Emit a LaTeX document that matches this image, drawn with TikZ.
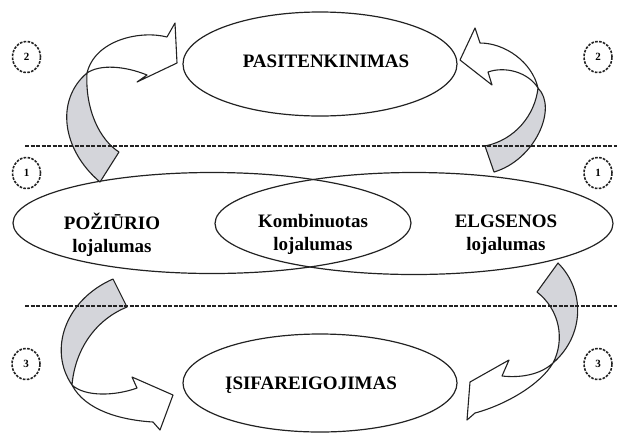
\documentclass[tikz,border=0pt]{standalone}
\usepackage{fontspec}
\setmainfont{Liberation Serif}
\usetikzlibrary{shapes.geometric}
\definecolor{bandgray}{HTML}{D4D5DA}
\definecolor{ink}{HTML}{222222}
\begin{document}
\begin{tikzpicture}[x=1pt,y=-1pt,
  oval/.style={draw=ink, line width=1.2pt, ellipse, inner sep=0pt},
  lbl/.style={font=\bfseries\fontsize{19}{23}\selectfont, align=center, inner sep=0pt, text=black},
  band/.style={draw=ink, line width=1.1pt, line join=round},
  backside/.style={band, fill=bandgray},
  frontside/.style={band, fill=white},
  divider/.style={draw=ink, line width=2pt, dash pattern=on 4pt off 1.5pt},
  stage/.style={draw=ink, line width=1.6pt, dash pattern=on 2.6pt off 1.3pt, ellipse,
    minimum width=28pt, minimum height=31pt, inner sep=0pt, text=black,
    font=\bfseries\fontsize{11}{11}\selectfont}
]
\useasboundingbox (0,0) rectangle (617,432);

% ellipses
\node[oval, minimum width=274pt, minimum height=104pt] (sat) at (320,64) {};
\node[oval, minimum width=274pt, minimum height=98pt] (com) at (320,383) {};
\node[oval, minimum width=398pt, minimum height=101pt] (att) at (212,223) {};
\node[oval, minimum width=398pt, minimum height=102pt] (beh) at (414,223.5) {};

% texts
\node[lbl, anchor=base] (tsat) at (326,67) {PASITENKINIMAS};
\node[lbl, anchor=base] (tcom) at (311,389) {ĮSIFAREIGOJIMAS};
\node[lbl] (tatt) at (112,234.5) {POŽIŪRIO\\lojalumas};
\node[lbl] (tmix) at (313,234.5) {Kombinuotas\\lojalumas};
\node[lbl] (tbeh) at (506,234.5) {ELGSENOS\\lojalumas};

% top-left twisted arrow
\path[backside] (100,182) .. controls (62,150) and (55,100) .. (87,73)
  .. controls (85,110) and (100,140) .. (119,152) -- cycle;
\path[frontside] (87,73) .. controls (95,40) and (140,30) .. (167,37) -- (175,23) -- (177,63)
  -- (137,82) -- (147,75) .. controls (125,66) and (100,64) .. (87,73) -- cycle;

% top-right twisted arrow
\path[backside] (494,172) .. controls (535,160) and (558,108) .. (538,88)
  .. controls (535,115) and (515,140) .. (485,146) -- cycle;
\path[frontside] (538,88) .. controls (532,62) and (505,43) .. (480,43) -- (475,28) -- (460,60)
  -- (492,85) -- (488,72) .. controls (505,66) and (528,72) .. (538,88) -- cycle;

% bottom-left twisted arrow
\path[backside] (113,279) .. controls (65,300) and (48,350) .. (72,385)
  .. controls (75,350) and (95,320) .. (127,307) -- cycle;
\path[frontside] (72,385) .. controls (85,397) and (115,396) .. (137,388) -- (132,377) -- (173,395)
  -- (160,430) -- (153,422) .. controls (120,420) and (85,410) .. (72,385) -- cycle;

% bottom-right twisted arrow
\path[backside] (558,263) .. controls (585,290) and (585,335) .. (553,363)
  .. controls (565,340) and (560,310) .. (537,292) -- cycle;
\path[frontside] (553,363) .. controls (540,375) and (520,378) .. (502,376) -- (509,360) -- (470,382)
  -- (467,420) -- (475,413) .. controls (505,405) and (540,385) .. (553,363) -- cycle;

% dashed dividers
\coordinate (d1s) at (25,146);
\coordinate (d1e) at (617,146);
\coordinate (d2s) at (25,306);
\coordinate (d2e) at (617,306);
\draw[divider] (d1s) -- (d1e);
\draw[divider] (d2s) -- (d2e);

% stage markers
\node[stage] (s2l) at (26.5,57) {2};
\node[stage] (s2r) at (598,57) {2};
\node[stage] (s1l) at (26.5,173) {1};
\node[stage] (s1r) at (598,173) {1};
\node[stage] (s3l) at (26,364) {3};
\node[stage] (s3r) at (598,364) {3};
\end{tikzpicture}
\end{document}
